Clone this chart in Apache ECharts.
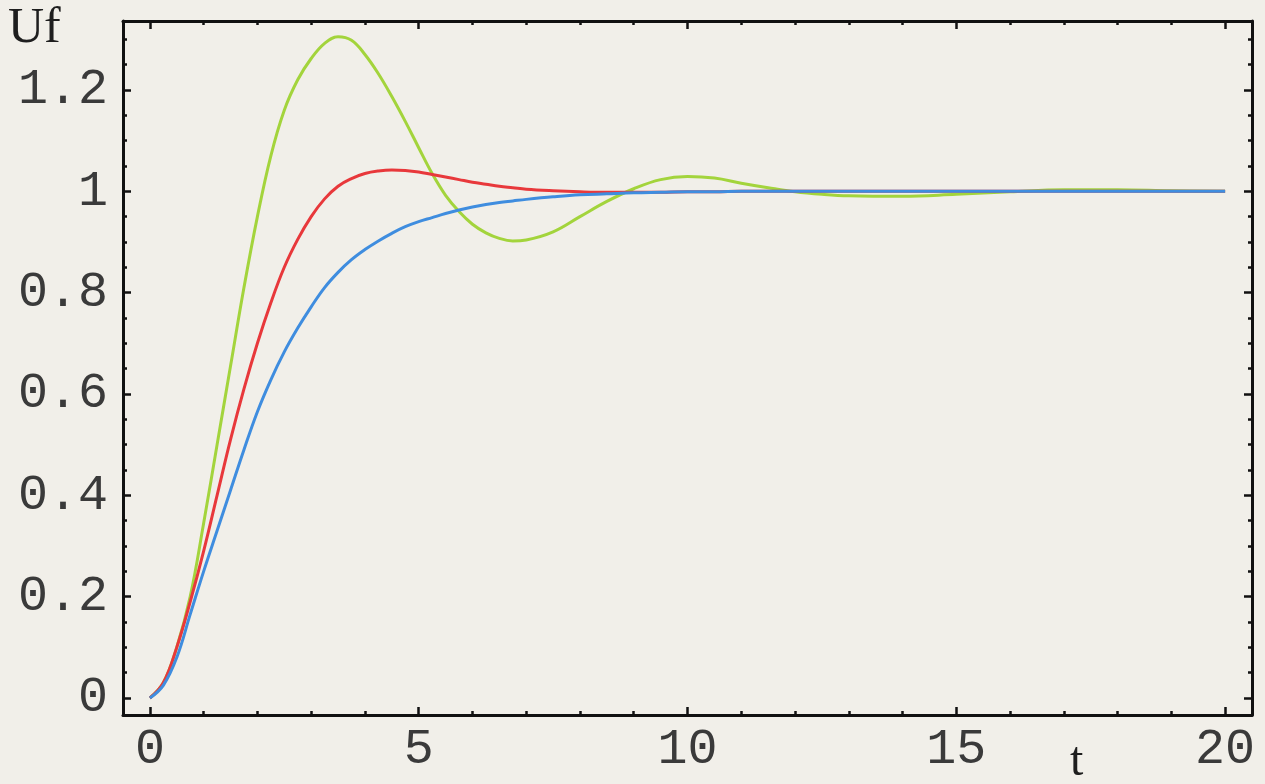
<!doctype html>
<html lang="en">
<head>
    <meta charset="utf-8">
    <title>Uf(t)</title>
    <script src="https://cdn.jsdelivr.net/npm/echarts@6/dist/echarts.min.js"></script>
    <style>
        html, body { margin: 0; padding: 0; background: #f1efe9; }
        #main { width: 1265px; height: 784px; }
    </style>
</head>
<body>
    <div id="main"></div>
    <script>
        // values
        var tValues = [0, 0.25, 0.5, 0.75, 1, 1.25, 1.5, 1.75, 2, 2.25, 2.5, 2.75, 3, 3.25, 3.5, 3.75,
            4, 4.25, 4.5, 4.75, 5, 5.25, 5.5, 5.75, 6, 6.25, 6.5, 6.75, 7, 7.5, 8, 8.5, 9, 9.5,
            10, 10.5, 11, 11.5, 12, 12.5, 13, 14, 15, 16, 17, 18, 19, 20];

        var greenValues = [0, 0.03, 0.10, 0.20, 0.345, 0.50, 0.655, 0.81, 0.95, 1.07, 1.16, 1.22, 1.262, 1.292, 1.305, 1.298,
            1.27, 1.232, 1.187, 1.138, 1.086, 1.035, 0.992, 0.96, 0.935, 0.918, 0.907, 0.902, 0.904, 0.92, 0.95, 0.98, 1.005, 1.023,
            1.029, 1.026, 1.016, 1.007, 0.999, 0.994, 0.991, 0.99, 0.994, 0.999, 1.003, 1.003, 1.001, 1.0];

        var redValues = [0, 0.03, 0.10, 0.19, 0.29, 0.40, 0.51, 0.61, 0.70, 0.78, 0.85, 0.905, 0.95, 0.985, 1.01, 1.025,
            1.035, 1.04, 1.042, 1.041, 1.038, 1.033, 1.028, 1.023, 1.018, 1.014, 1.01, 1.007, 1.004, 1.001, 0.999, 0.998, 0.998, 0.998,
            0.999, 0.999, 1.0, 1.0, 1.0, 1.0, 1.0, 1.0, 1.0, 1.0, 1.0, 1.0, 1.0, 1.0];

        var blueValues = [0, 0.025, 0.08, 0.165, 0.25, 0.33, 0.41, 0.49, 0.565, 0.628, 0.683, 0.73, 0.772, 0.81, 0.84, 0.865,
            0.885, 0.902, 0.917, 0.93, 0.94, 0.948, 0.956, 0.963, 0.969, 0.974, 0.978, 0.981, 0.984, 0.989, 0.993, 0.995, 0.997, 0.998,
            0.999, 0.999, 1.0, 1.0, 1.0, 1.0, 1.0, 1.0, 1.0, 1.0, 1.0, 1.0, 1.0, 1.0];

        var xMajorTicks = [0, 5, 10, 15, 20];
        var xMinorTicks = [0, 1, 2, 3, 4, 5, 6, 7, 8, 9, 10, 11, 12, 13, 14, 15, 16, 17, 18, 19, 20];
        var yMajorTicks = [0, 0.2, 0.4, 0.6, 0.8, 1, 1.2];
        var yMinorTicks = [0, 0.05, 0.1, 0.15, 0.2, 0.25, 0.3, 0.35, 0.4, 0.45, 0.5, 0.55, 0.6, 0.65,
            0.7, 0.75, 0.8, 0.85, 0.9, 0.95, 1, 1.05, 1.1, 1.15, 1.2, 1.25, 1.3];

        var xMin = -0.5, xMax = 20.5;
        var yMin = -0.0335, yMax = 1.336;

        function pairs(vals) {
            return tValues.map(function (t, i) { return [t, vals[i]]; });
        }

        var labelFont = {
            fontFamily: 'Liberation Mono',
            fontSize: 50,
            color: '#3a3a3a'
        };

        function xAxisOf(position, ticks, len, withLine, withLabel) {
            return {
                type: 'value', position: position, min: xMin, max: xMax,
                axisLine: { show: withLine, onZero: false, lineStyle: { color: '#111', width: 3 } },
                axisTick: { show: true, inside: true, length: len, customValues: ticks,
                    lineStyle: { color: '#111', width: 2.5 } },
                axisLabel: withLabel ? Object.assign({ show: true, margin: 10, customValues: xMajorTicks }, labelFont)
                                     : { show: false },
                splitLine: { show: false }
            };
        }

        function yAxisOf(position, ticks, len, withLine, withLabel) {
            return {
                type: 'value', position: position, min: yMin, max: yMax,
                axisLine: { show: withLine, onZero: false, lineStyle: { color: '#111', width: 3 } },
                axisTick: { show: true, inside: true, length: len, customValues: ticks,
                    lineStyle: { color: '#111', width: 2.5 } },
                axisLabel: withLabel ? Object.assign({ show: true, margin: 15, customValues: yMajorTicks,
                        formatter: function (v) { return String(Math.round(v * 10) / 10); } }, labelFont)
                                     : { show: false },
                splitLine: { show: false }
            };
        }

        var myChart = echarts.init(document.getElementById('main'));

        var option = {
            backgroundColor: '#f1efe9',
            animation: false,
            grid: { left: 123, right: 13, top: 21, bottom: 69 },
            xAxis: [
                xAxisOf('bottom', xMajorTicks, 8, true, true),
                xAxisOf('bottom', xMinorTicks, 4, false, false),
                xAxisOf('top', xMajorTicks, 8, true, false),
                xAxisOf('top', xMinorTicks, 4, false, false)
            ],
            yAxis: [
                yAxisOf('left', yMajorTicks, 8, true, true),
                yAxisOf('left', yMinorTicks, 4, false, false),
                yAxisOf('right', yMajorTicks, 8, true, false),
                yAxisOf('right', yMinorTicks, 4, false, false)
            ],
            graphic: [
                { type: 'text', left: 8, top: 4,
                  style: { text: 'Uf', font: '50px "Liberation Serif"', fill: '#1e1e1e' } },
                { type: 'text', left: 1070, top: 738,
                  style: { text: 't', font: '48px "Liberation Serif"', fill: '#1e1e1e' } }
            ],
            series: [
                { name: 'green', type: 'line', data: pairs(greenValues), smooth: 0.4,
                  showSymbol: false, lineStyle: { color: '#a3d43c', width: 3 } },
                { name: 'red', type: 'line', data: pairs(redValues), smooth: 0.4,
                  showSymbol: false, lineStyle: { color: '#e8383b', width: 3 } },
                { name: 'blue', type: 'line', data: pairs(blueValues), smooth: 0.4,
                  showSymbol: false, lineStyle: { color: '#3f8ddf', width: 3 } }
            ]
        };

        myChart.setOption(option);
    </script>
</body>
</html>
